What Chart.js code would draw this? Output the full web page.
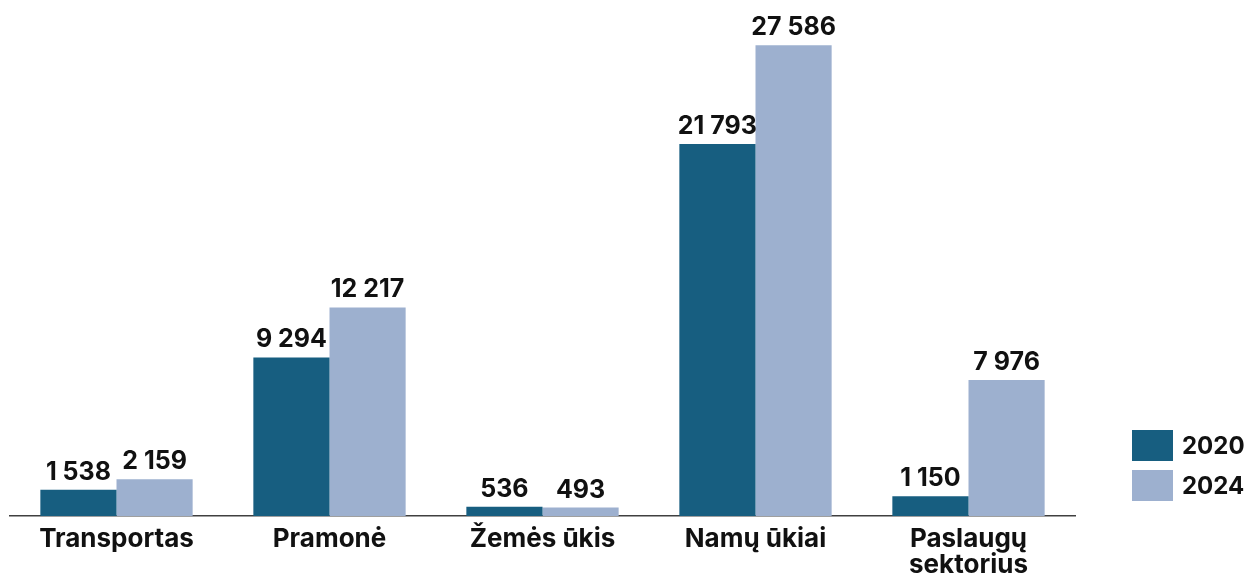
<!DOCTYPE html>
<html>
<head>
  <title>Energijos suvartojimas</title>
  <style>
    body { margin: 0; background: #fff; font-family: Inter, Roboto, sans-serif; }
    #wrap { position: relative; width: 1247px; height: 588px; }
    .legend { position: absolute; left: 1132px; font-weight: bold; font-size: 24px; color: #111; }
    .legend div { display: flex; align-items: center; height: 31px; margin-bottom: 9px; }
    .legend span { display: inline-block; width: 41px; height: 31px; margin-right: 9px; }
  </style>
</head>
<body>
  <div id="wrap">
    <canvas id="chart" width="1247" height="588"></canvas>
    <div class="legend" style="top:430px">
      <div><span style="background:#175e80"></span>2020</div>
      <div><span style="background:#9db0cf"></span>2024</div>
    </div>
  </div>

  <script src="https://cdn.jsdelivr.net/npm/chart.js"></script>
  <script>
    const categories = ['Transportas', 'Pramonė', 'Žemės ūkis', 'Namų ūkiai', ['Paslaugų', 'sektorius']];
    const values2020 = [1538, 9294, 536, 21793, 1150];
    const values2024 = [2159, 12217, 493, 27586, 7976];

    function fmt(v) {
      return String(v).replace(/\B(?=(\d{3})+(?!\d))/g, ' ');
    }

    // value labels above each bar
    const valueLabels = {
      id: 'valueLabels',
      afterDatasetsDraw(chart) {
        const ctx = chart.ctx;
        ctx.save();
        ctx.font = 'bold 25px Inter, Roboto, sans-serif';
        ctx.fillStyle = '#111';
        ctx.textAlign = 'center';
        ctx.textBaseline = 'alphabetic';
        chart.data.datasets.forEach((ds, i) => {
          chart.getDatasetMeta(i).data.forEach((bar, j) => {
            ctx.fillText(fmt(ds.data[j]), bar.x, bar.y - 10);
          });
        });
        ctx.restore();
      }
    };

    new Chart(document.getElementById('chart'), {
      type: 'bar',
      data: {
        labels: categories,
        datasets: [
          { label: '2020', data: values2020, backgroundColor: '#175e80' },
          { label: '2024', data: values2024, backgroundColor: '#9db0cf' }
        ]
      },
      options: {
        responsive: false,
        animation: false,
        layout: { padding: { left: 10, right: 172, top: 4 } },
        datasets: { bar: { barPercentage: 1, categoryPercentage: 0.715 } },
        plugins: { legend: { display: false }, tooltip: { enabled: false } },
        scales: {
          x: {
            grid: { display: false, drawTicks: false },
            border: { color: '#404040', width: 1.5 },
            ticks: {
              color: '#111',
              padding: 10,
              font: { family: 'Inter, Roboto, sans-serif', size: 26, weight: 'bold', lineHeight: 1.0 }
            }
          },
          y: {
            display: false,
            min: 0,
            max: 30000
          }
        }
      },
      plugins: [valueLabels]
    });
  </script>
</body>
</html>
